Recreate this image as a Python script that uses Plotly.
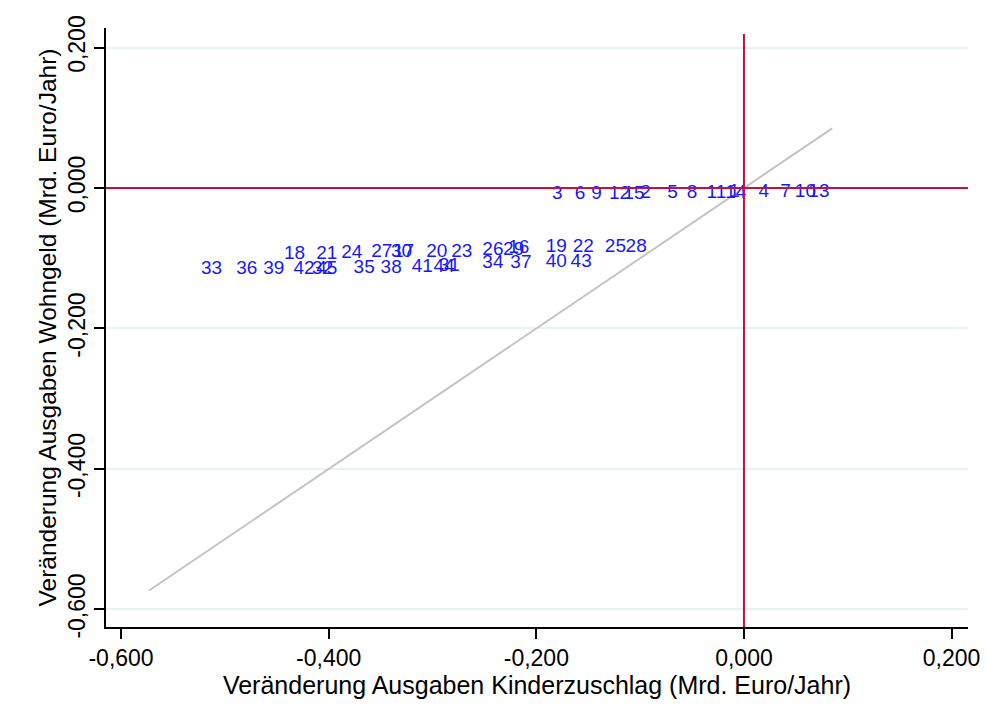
import plotly.graph_objects as go

# Data: label, x (Kinderzuschlag change), y (Wohngeld change)
labels = [str(i) for i in range(1, 46)]
x_vals = {
    1: -0.0145, 2: -0.100, 3: -0.185, 4: 0.014, 5: -0.074, 6: -0.163, 7: 0.035, 8: -0.055,
    9: -0.147, 10: 0.049, 11: -0.036, 12: -0.130, 13: 0.062, 14: -0.018, 15: -0.116,
    16: -0.227, 17: -0.338, 18: -0.443, 19: -0.191, 20: -0.306, 21: -0.412, 22: -0.165,
    23: -0.282, 24: -0.388, 25: -0.134, 26: -0.252, 27: -0.359, 28: -0.114, 29: -0.232,
    30: -0.340, 31: -0.294, 32: -0.416, 33: -0.523, 34: -0.252, 35: -0.376, 36: -0.489,
    37: -0.225, 38: -0.350, 39: -0.463, 40: -0.191, 41: -0.320, 42: -0.434, 43: -0.167,
    44: -0.299, 45: -0.412,
}
y_vals = {
    1: -0.006, 2: -0.008, 3: -0.009, 4: -0.006, 5: -0.008, 6: -0.009, 7: -0.006, 8: -0.008,
    9: -0.009, 10: -0.006, 11: -0.008, 12: -0.009, 13: -0.006, 14: -0.008, 15: -0.009,
    16: -0.086, 17: -0.091, 18: -0.094, 19: -0.084, 20: -0.091, 21: -0.094, 22: -0.084,
    23: -0.091, 24: -0.093, 25: -0.084, 26: -0.088, 27: -0.091, 28: -0.084, 29: -0.088,
    30: -0.091, 31: -0.111, 32: -0.115, 33: -0.115, 34: -0.107, 35: -0.114, 36: -0.115,
    37: -0.107, 38: -0.114, 39: -0.115, 40: -0.105, 41: -0.113, 42: -0.115, 43: -0.105,
    44: -0.113, 45: -0.115,
}
xs = [x_vals[i] for i in range(1, 46)]
ys = [y_vals[i] for i in range(1, 46)]

# 45-degree reference line endpoints
diag_x = [-0.573, 0.085]
diag_y = [-0.573, 0.085]

tick_vals = [-0.6, -0.4, -0.2, 0.0, 0.2]
tick_text = ["-0,600", "-0,400", "-0,200", "0,000", "0,200"]

FONT = "Liberation Sans, Arial, sans-serif"
RED = "#c8103c"

fig = go.Figure()
fig.add_trace(go.Scatter(x=diag_x, y=diag_y, mode="lines",
                         line=dict(color="#c4c4c4", width=2), hoverinfo="skip",
                         showlegend=False))
fig.add_trace(go.Scatter(x=xs, y=ys, mode="text", text=labels,
                         textposition="middle right",
                         textfont=dict(family=FONT, size=19, color="#1818ff"),
                         showlegend=False))

fig.add_shape(type="line", xref="paper", yref="y", x0=0, x1=1, y0=0, y1=0,
              line=dict(color=RED, width=2), layer="above")
fig.add_shape(type="line", xref="x", yref="paper", x0=0, x1=0, y0=0, y1=0.99,
              line=dict(color=RED, width=2), layer="above")

fig.update_layout(
    width=987, height=720,
    margin=dict(l=106, r=19, t=28, b=93),
    paper_bgcolor="white", plot_bgcolor="white",
    font=dict(family=FONT, color="black"),
    showlegend=False,
)
fig.update_xaxes(
    range=[-0.6145, 0.2158], tickvals=tick_vals, ticktext=tick_text,
    automargin=False, ticklabeloverflow="allow",
    showgrid=False, zeroline=False,
    showline=True, linecolor="black", linewidth=1.5,
    ticks="outside", ticklen=10, tickwidth=1.5, tickcolor="black",
    tickfont=dict(size=23, family=FONT),
    title=dict(text="Veränderung Ausgaben Kinderzuschlag (Mrd. Euro/Jahr)",
               font=dict(size=25, family=FONT), standoff=0),
)
fig.update_yaxes(
    range=[-0.625, 0.2278], tickvals=tick_vals, ticktext=tick_text,
    automargin=False, ticklabeloverflow="allow",
    showgrid=True, gridcolor="#eaf2f3", gridwidth=1.5, zeroline=False,
    showline=True, linecolor="black", linewidth=1.5,
    ticks="outside", ticklen=10, tickwidth=1.5, tickcolor="black",
    tickangle=-90,
    tickfont=dict(size=23, family=FONT),
    title=dict(text="Veränderung Ausgaben Wohngeld (Mrd. Euro/Jahr)",
               font=dict(size=24.5, family=FONT), standoff=0),
)

fig.write_html("out.html")
